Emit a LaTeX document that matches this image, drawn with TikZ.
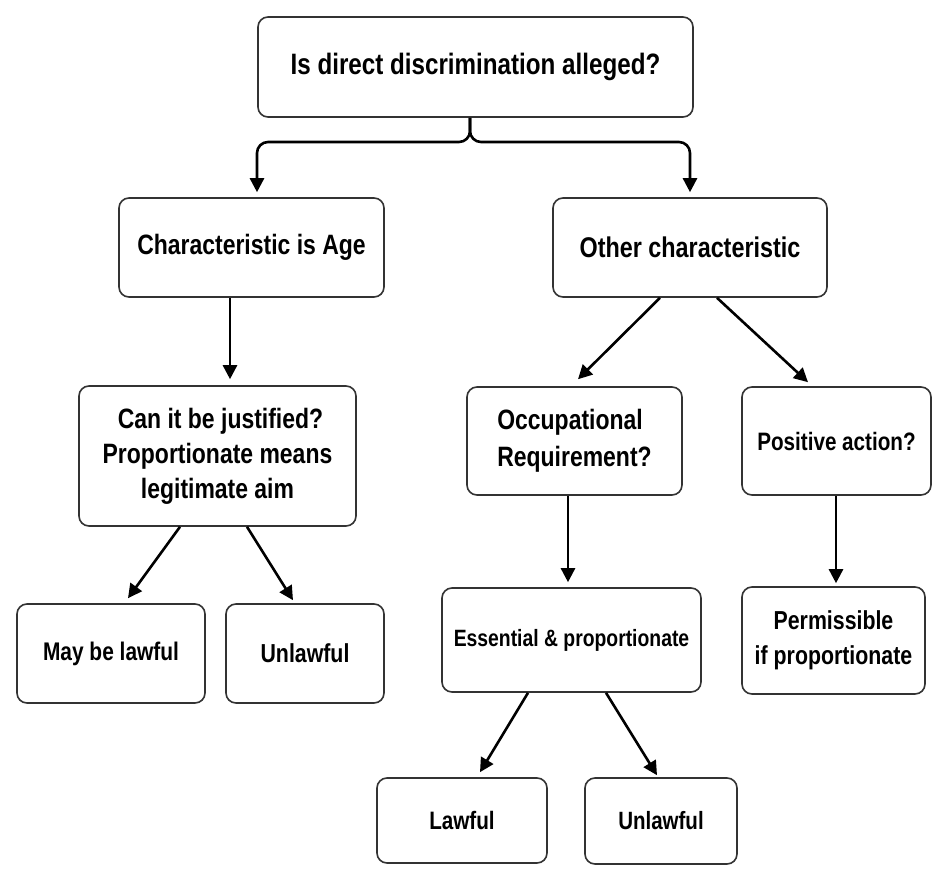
\documentclass[tikz,border=0pt]{standalone}
\usepackage{fontspec}
\setmainfont{Liberation Sans}[FakeStretch=0.82]
\usetikzlibrary{arrows.meta,calc}
\begin{document}
\begin{tikzpicture}[x=1pt,y=-1pt,
  box/.style={draw=black!80, line width=1.6pt, rounded corners=10pt, fill=white,
    inner sep=0pt, align=center, font=\fontsize{28}{35}\selectfont\bfseries},
  fs/.style={font=\fontsize{#1}{35}\selectfont\bfseries},
  arr/.style={draw=black, line width=2.6pt, -{Triangle[length=14pt,width=14pt]}}]
\useasboundingbox (0,0) rectangle (948,881);
\fill[white] (0,0) rectangle (948,881);
% nodes
\node[box, fs=29.5, minimum width=435pt, minimum height=100pt] (top) at (475.5,67) {Is direct discrimination alleged?};
\node[box, minimum width=265pt, minimum height=99pt] (age) at (251.5,247.5) {Characteristic is Age};
\node[box, fs=28.5, minimum width=274pt, minimum height=99pt] (other) at (690,247.5) {Other characteristic};
\node[box, minimum width=277pt, minimum height=140pt] (can) at (217.5,456) {\hspace*{6pt}Can it be justified?\\Proportionate means\\legitimate aim};
\node[box, minimum width=215pt, minimum height=108pt, align=left] (occ) at (574.5,441) {Occupational\\[2pt]Requirement?};
\node[box, fs=25.2, minimum width=189pt, minimum height=108pt] (pos) at (836.5,441) {\raisebox{-2pt}{Positive action?}};
\node[box, fs=25.5, minimum width=188pt, minimum height=99pt] (may) at (111,653.5) {\raisebox{-3pt}{May be lawful}};
\node[box, fs=26, minimum width=158pt, minimum height=99pt] (unl1) at (305,653.5) {\raisebox{-2pt}{Unlawful}};
\node[box, fs=23.6, minimum width=259pt, minimum height=104pt] (ess) at (571.5,640) {Essential \& proportionate};
\node[box, fs=26, minimum width=183pt, minimum height=107pt] (perm) at (833.5,640.5) {Permissible\\if proportionate};
\node[box, fs=25.2, minimum width=170pt, minimum height=85pt] (lawful) at (462,820.5) {Lawful};
\node[box, fs=25, minimum width=152pt, minimum height=86pt] (unl2) at (661,821) {Unlawful};
% connectors
\coordinate (split) at (470,142);
\draw[arr, rounded corners=11pt] ([xshift=-5.5pt]top.south) -- (split) -| ([xshift=5.5pt,yshift=5pt]age.north);
\draw[arr, rounded corners=11pt] ([xshift=-5.5pt]top.south) -- (split) -| ([yshift=5pt]other.north);
\draw[arr] ([xshift=-21.5pt]age.south) -- ([xshift=12.5pt,yshift=6pt]can.north);
\draw[arr] ([xshift=-30pt]other.south) -- ([xshift=3.5pt,yshift=7pt]occ.north);
\draw[arr] ([xshift=27pt]other.south) -- ([xshift=-28.5pt,yshift=4pt]pos.north);
\draw[arr] ([xshift=-37.5pt]can.south) -- ([xshift=17pt,yshift=5pt]may.north);
\draw[arr] ([xshift=29.5pt]can.south) -- ([xshift=-12pt,yshift=3pt]unl1.north);
\draw[arr] ([xshift=-6.5pt]occ.south) -- ([xshift=-3.5pt,yshift=5pt]ess.north);
\draw[arr] ([xshift=-0.5pt]pos.south) -- ([xshift=2.5pt,yshift=3pt]perm.north);
\draw[arr] ([xshift=-43.5pt]ess.south) -- ([xshift=18pt,yshift=5pt]lawful.north);
\draw[arr] ([xshift=34.5pt]ess.south) -- ([xshift=-4pt,yshift=2pt]unl2.north);
\end{tikzpicture}
\end{document}
